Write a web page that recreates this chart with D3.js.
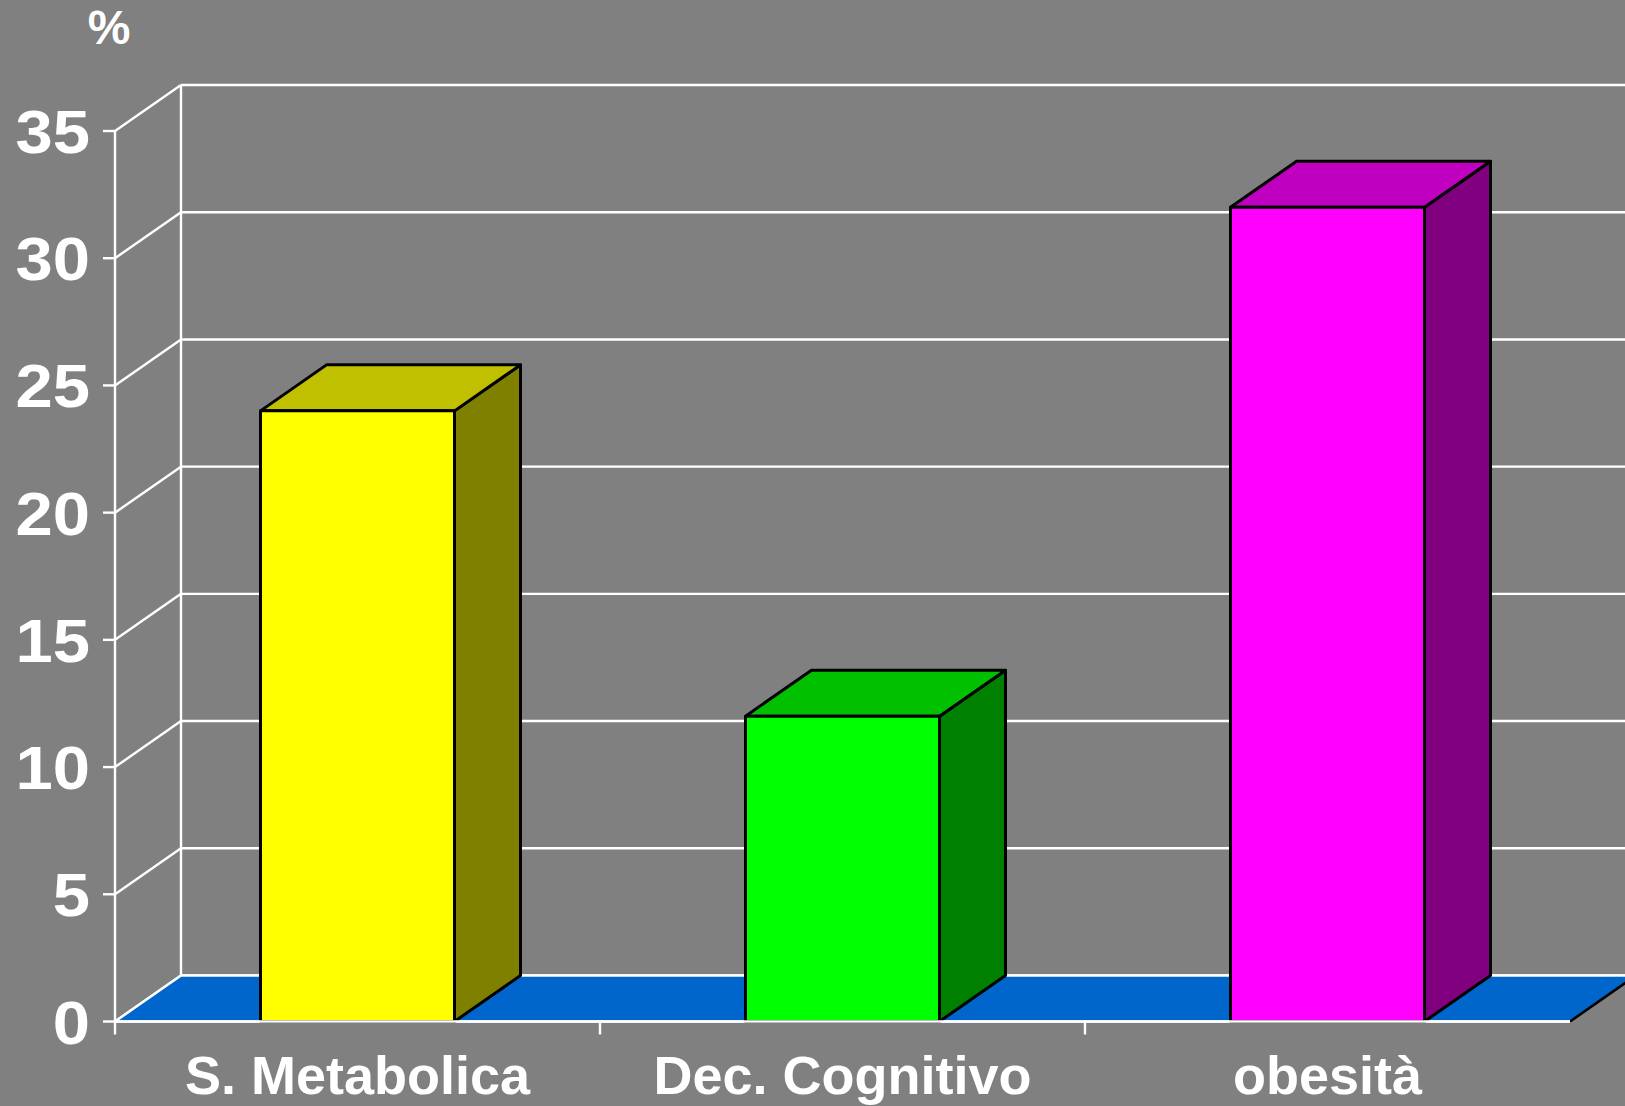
<!DOCTYPE html>
<html>
<head>
<meta charset="utf-8">
<script src="https://cdn.jsdelivr.net/npm/d3@7"></script>
<style>
  html, body { margin: 0; padding: 0; background: #808080; }
  svg { display: block; }
  text { font-family: "Liberation Sans", Arial, sans-serif; font-weight: bold; fill: #ffffff; }
</style>
</head>
<body>
<svg id="chart" width="1625" height="1106"></svg>
<script>
// Chart data
const categories = ["S. Metabolica", "Dec. Cognitivo", "obesità"];
const values = [24, 12, 32];
const yTicks = [0, 5, 10, 15, 20, 25, 30, 35];
const unitLabel = "%";
const frontColors = ["#FFFF00", "#00FF00", "#FF00FF"];
const topColors = ["#C0C000", "#00C000", "#C000C0"];
const sideColors = ["#808000", "#008000", "#800080"];

const W = 1625, H = 1106;
const plotLeft = 115, plotRight = 1570;
const baseY = 1021.5, topY = 131;
const depthX = 66, depthY = 46;   // oblique offset of the back plane

const svg = d3.select("#chart");
svg.append("rect").attr("width", W).attr("height", H).attr("fill", "#808080");

const x = d3.scaleBand()
  .domain(categories)
  .range([plotLeft, plotRight])
  .paddingInner(0.6)
  .paddingOuter(0.3);

const xEdges = d3.scalePoint()
  .domain(d3.range(categories.length + 1))
  .range([plotLeft, plotRight]);

const y = d3.scaleLinear().domain([0, 35]).range([baseY, topY]);

const line = d3.line();
const walls = svg.append("g").attr("stroke", "#ffffff").attr("stroke-width", 2.4).attr("fill", "none");

// back-wall gridlines and side-wall diagonals
yTicks.forEach(t => {
  const yy = y(t);
  walls.append("path").attr("d", line([[plotLeft + depthX, yy - depthY], [plotRight + depthX, yy - depthY]]));
  walls.append("path").attr("d", line([[plotLeft, yy], [plotLeft + depthX, yy - depthY]]));
});
// back-wall left edge
walls.append("path").attr("d", line([[plotLeft + depthX, y(35) - depthY], [plotLeft + depthX, baseY - depthY]]));

// floor
const floor = svg.append("g");
floor.append("path")
  .attr("d", line([[plotLeft, baseY], [plotLeft + depthX, baseY - depthY], [plotRight + depthX, baseY - depthY], [plotRight, baseY]]) + "Z")
  .attr("fill", "#0066CC");
floor.append("path").attr("d", line([[plotLeft + depthX, baseY - depthY], [plotRight + depthX, baseY - depthY]]))
  .attr("stroke", "#ffffff").attr("stroke-width", 2.4).attr("fill", "none");
floor.append("path").attr("d", line([[plotLeft, baseY], [plotLeft + depthX, baseY - depthY]]))
  .attr("stroke", "#ffffff").attr("stroke-width", 2.4).attr("fill", "none");
floor.append("path").attr("d", line([[plotRight, baseY], [plotRight + depthX, baseY - depthY]]))
  .attr("stroke", "#000000").attr("stroke-width", 2.6).attr("fill", "none");

// front axes
const axes = svg.append("g").attr("stroke", "#ffffff").attr("stroke-width", 2.4).attr("fill", "none");
axes.append("path").attr("d", line([[plotLeft, y(35)], [plotLeft, baseY]]));
axes.append("path").attr("d", line([[plotLeft, baseY], [plotRight, baseY]]));
yTicks.forEach(t => {
  axes.append("path").attr("d", line([[plotLeft - 12, y(t)], [plotLeft, y(t)]]));
});
// category separators (none at the far right end)
xEdges.domain().slice(0, categories.length).forEach(i => {
  axes.append("path").attr("d", line([[xEdges(i), baseY], [xEdges(i), baseY + 13]]));
});

// 3D columns
const bars = svg.append("g").attr("stroke", "#000000").attr("stroke-width", 3).attr("stroke-linejoin", "round");
categories.forEach((c, i) => {
  const x0 = x(c), x1 = x(c) + x.bandwidth();
  const y0 = baseY, y1 = y(values[i]);
  const g = bars.append("g");
  g.append("path")
    .attr("d", line([[x1, y0], [x1 + depthX, y0 - depthY], [x1 + depthX, y1 - depthY], [x1, y1]]) + "Z")
    .attr("fill", sideColors[i]);
  g.append("path")
    .attr("d", line([[x0, y1], [x0 + depthX, y1 - depthY], [x1 + depthX, y1 - depthY], [x1, y1]]) + "Z")
    .attr("fill", topColors[i]);
  g.append("path")
    .attr("d", line([[x0, y0], [x0, y1], [x1, y1], [x1, y0]]) + "Z")
    .attr("fill", frontColors[i]);
});
// axis line stays visible across the bar bottoms
svg.append("path").attr("d", line([[plotLeft, baseY], [plotRight, baseY]]))
  .attr("stroke", "#ffffff").attr("stroke-width", 2.4);

// value labels (slightly widened glyphs)
svg.append("g").selectAll("text")
  .data(yTicks)
  .join("text")
  .attr("transform", d => `translate(90,${y(d) + 22}) scale(1.08,1)`)
  .attr("text-anchor", "end")
  .attr("font-size", 62)
  .text(d => d);

// category labels
svg.append("g").selectAll("text")
  .data(categories)
  .join("text")
  .attr("x", d => x(d) + x.bandwidth() / 2)
  .attr("y", 1094)
  .attr("text-anchor", "middle")
  .attr("font-size", 54)
  .text(d => d);

// unit label
svg.append("text")
  .attr("x", 109)
  .attr("y", 44)
  .attr("text-anchor", "middle")
  .attr("font-size", 48)
  .text(unitLabel);
</script>
</body>
</html>
